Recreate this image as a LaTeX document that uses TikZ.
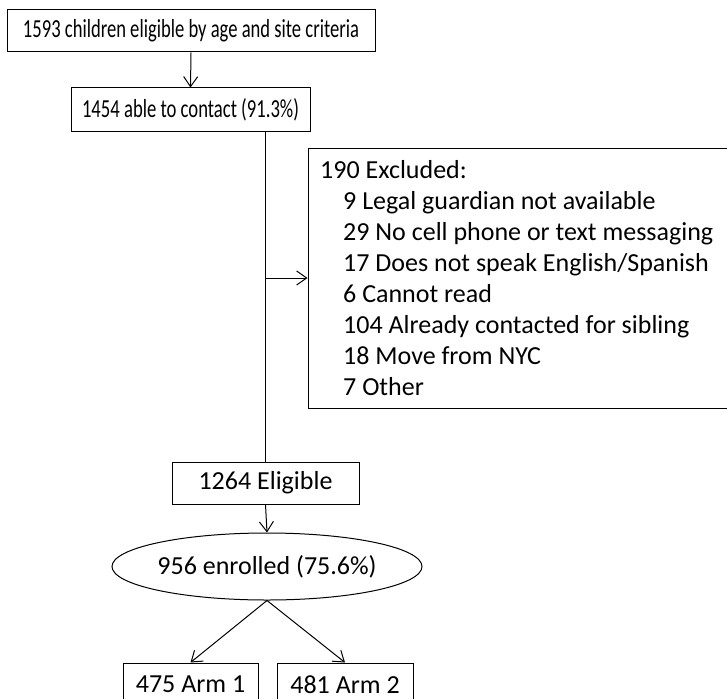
\documentclass[tikz,border=0pt]{standalone}
\usepackage{fontspec}
\usepackage{graphicx}
\setmainfont{Carlito}
\usetikzlibrary{shapes.geometric,arrows.meta}
\begin{document}
\begin{tikzpicture}[x=1pt,y=-1pt,
  every node/.style={font=\fontsize{26pt}{31pt}\selectfont, inner sep=0pt},
  boxnode/.style={draw, rectangle, line width=1pt},
  conn/.style={line width=1pt, -{Straight Barb[length=10pt,width=14pt,line width=1pt]}},
  plain/.style={line width=1pt}]
\useasboundingbox (0,0) rectangle (727,698);
\node[boxnode, minimum width=368pt, minimum height=42pt] (top) at (191,31)
  {\resizebox{336pt}{\height}{1593 children eligible by age and site criteria}};
\node[boxnode, minimum width=239pt, minimum height=43pt] (contact) at (190.5,109.5)
  {\resizebox{217pt}{\height}{1454 able to contact (91.3\%)}};
\node[boxnode, minimum width=422pt, minimum height=260pt] (excl) at (519,278) {};
\node[anchor=base west, align=left] (excltxt) at (320,395)
  {190 Excluded:\\
   \hspace*{23pt}9 Legal guardian not available\\
   \hspace*{23pt}29 No cell phone or text messaging\\
   \hspace*{23pt}17 Does not speak English/Spanish\\
   \hspace*{23pt}6 Cannot read\\
   \hspace*{23pt}104 Already contacted for sibling\\
   \hspace*{23pt}18 Move from NYC\\
   \hspace*{23pt}7 Other};
\node[boxnode, minimum width=187pt, minimum height=42pt] (elig) at (265.5,483) {1264 Eligible};
\node[draw, ellipse, line width=1pt, minimum width=288pt, minimum height=67pt] (enr) at (267,566.5) {956 enrolled (75.6\%)};
\node[boxnode, minimum width=135pt, minimum height=43pt] (arm1) at (190.5,684.5) {475 Arm 1};
\node[boxnode, minimum width=136pt, minimum height=43pt] (arm2) at (345,684.5) {481 Arm 2};
\draw[conn] (top.south) -- (contact.north);
\draw[plain] (elig.north |- contact.south) -- (elig.north);
\draw[conn] (elig.north |- excl.west) -- (excl.west);
\draw[conn] (elig.south) -- (enr.north);
\draw[conn] (enr.south) -- (arm1.north);
\draw[conn] (enr.south) -- (arm2.north);
\end{tikzpicture}
\end{document}
